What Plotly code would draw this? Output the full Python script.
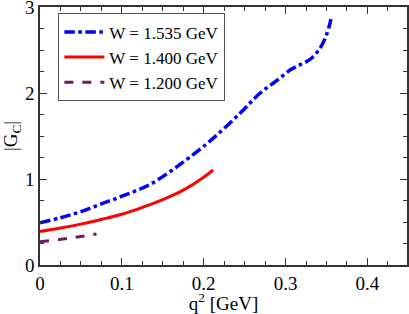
import plotly.graph_objects as go

# W = 1.535 GeV
q2_w1535 = [0.0, 0.025, 0.05, 0.075, 0.1, 0.135, 0.174, 0.21, 0.245, 0.269, 0.29, 0.306, 0.318, 0.330, 0.342, 0.349, 0.354, 0.3555]
gc_w1535 = [0.49, 0.55, 0.62, 0.71, 0.80, 0.94, 1.19, 1.46, 1.77, 2.00, 2.15, 2.27, 2.33, 2.39, 2.52, 2.65, 2.80, 2.86]
# W = 1.400 GeV
q2_w1400 = [0.0, 0.025, 0.05, 0.075, 0.1, 0.125, 0.15, 0.175, 0.2, 0.2115]
gc_w1400 = [0.39, 0.43, 0.475, 0.53, 0.59, 0.67, 0.76, 0.87, 1.02, 1.105]
# W = 1.200 GeV
q2_w1200 = [0.0, 0.035, 0.069]
gc_w1200 = [0.27, 0.31, 0.36]

labels = ["W = 1.535 GeV", "W = 1.400 GeV", "W = 1.200 GeV"]

fig = go.Figure()
fig.add_trace(go.Scatter(x=q2_w1535, y=gc_w1535, mode="lines", name=labels[0],
                         line=dict(color="#0000ff", width=3.5, dash="dashdot", shape="spline")))
fig.add_trace(go.Scatter(x=q2_w1400, y=gc_w1400, mode="lines", name=labels[1],
                         line=dict(color="#ff0000", width=3, shape="spline")))
fig.add_trace(go.Scatter(x=q2_w1200, y=gc_w1200, mode="lines", name=labels[2],
                         line=dict(color="#6b1e5b", width=3, dash="dash", shape="spline")))

font = "Liberation Serif"
axis_common = dict(
    showgrid=False, zeroline=False, showline=True, linecolor="#333", linewidth=1.5,
    mirror="ticks", ticks="inside", ticklen=7, tickwidth=1, tickcolor="#333",
    tickfont=dict(family=font, size=19, color="black"), ticklabeloverflow="allow",
)
fig.update_layout(
    width=409, height=314,
    margin=dict(l=40, r=2, t=7, b=49, autoexpand=False),
    paper_bgcolor="white", plot_bgcolor="white",
    font=dict(family=font, color="black"),
    xaxis=dict(range=[0, 0.4484], dtick=0.1, tick0=0,
               minor=dict(dtick=0.025, ticks="inside", ticklen=4, tickcolor="#333"),
               title=dict(text="q<sup>2</sup> [GeV]", font=dict(family=font, size=19), standoff=4),
               **axis_common),
    yaxis=dict(range=[0, 3.0001], dtick=1, tick0=0,
               minor=dict(dtick=0.25, ticks="inside", ticklen=4, tickcolor="#333"),
               title=dict(text="|G<sub>C</sub>|", font=dict(family=font, size=19), standoff=8),
               **axis_common),
    legend=dict(x=0.05, y=0.975, xanchor="left", yanchor="top",
                bordercolor="#555", borderwidth=1, bgcolor="white",
                font=dict(family=font, size=17), tracegroupgap=0, itemwidth=40),
    showlegend=True,
)
fig.write_html("out.html", config={"displayModeBar": False},
               post_script="document.body.style.margin='0';document.body.style.padding='0';")
